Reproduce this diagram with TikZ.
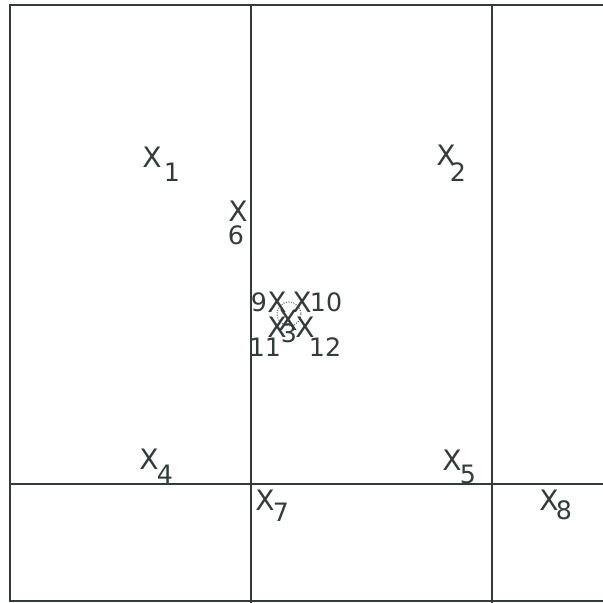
\documentclass[tikz,border=0pt]{standalone}
\usepackage{fontspec}
\setmainfont{DejaVu Sans}
\definecolor{ink}{HTML}{333B3B}
\tikzset{
  gridline/.style={ink, line width=1.4pt},
  pt/.style={inner sep=0pt, text=ink, font=\fontsize{20}{20}\selectfont},
  idx/.style={inner sep=0pt, text=ink, font=\fontsize{18}{18}\selectfont}
}
\begin{document}
\begin{tikzpicture}[x=0.025cm, y=-0.025cm]
    \useasboundingbox (0,0) rectangle (603,603);
    % cells of the grid
    \draw[gridline] (603,5) -- (10,5) -- (10,601) -- (603,601);
    \draw[gridline] (251,5) -- (251,603);
    \draw[gridline] (492,5) -- (492,603);
    \draw[gridline] (10,484) -- (603,484);

    % points and their numbers
    \node[pt] (x1) at (152,157) {X};
    \node[idx] (n1) at (172,172) {1};
    \node[pt] (x2) at (446,155) {X};
    \node[idx] (n2) at (458,172) {2};
    \node[pt] (x6) at (238,211) {X};
    \node[idx] (n6) at (236,235) {6};
    \node[pt] (x4) at (149,459) {X};
    \node[idx] (n4) at (165,474) {4};
    \node[pt] (x5) at (452,460) {X};
    \node[idx] (n5) at (468,474) {5};
    \node[pt] (x7) at (265,500) {X};
    \node[idx] (n7) at (281,512) {7};
    \node[pt] (x8) at (549,500) {X};
    \node[idx] (n8) at (564,510) {8};

    % cluster in the middle
    \draw[ink!70, densely dotted, line width=0.8pt] (289,314) circle (12);
    \node[pt] (x9) at (277,302) {X};
    \node[idx] (n9) at (259,302) {9};
    \node[pt] (x10) at (302,302) {X};
    \node[idx] (n10) at (326,302) {10};
    \node[pt] (x11) at (277,327) {X};
    \node[idx] (n11) at (265,347) {11};
    \node[pt] (x12) at (305,327) {X};
    \node[idx] (n12) at (325,347) {12};
    \node[pt] (x3) at (288,320) {X};
    \node[idx] (n3) at (289,333) {3};
\end{tikzpicture}
\end{document}
